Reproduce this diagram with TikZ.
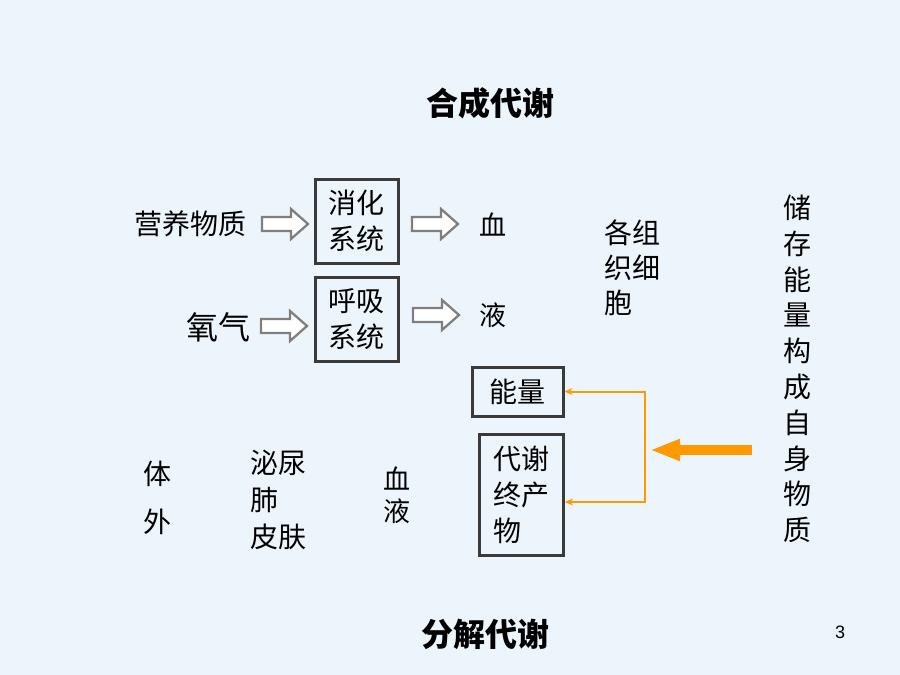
\documentclass[tikz,border=0pt]{standalone}
\usepackage{fontspec}
\setmainfont{Noto Sans CJK SC}
\newfontfamily\pagefont{Liberation Sans}
\usetikzlibrary{positioning,arrows.meta}
\definecolor{bg}{HTML}{EDF5FC}
\definecolor{boxline}{HTML}{3A3A3A}
\definecolor{hollow}{HTML}{7F7F7F}
\definecolor{flow}{HTML}{FF9900}
\tikzset{
  word/.style={inner sep=0pt, font=\fontsize{28}{36}\selectfont, align=center},
  heading/.style={inner sep=0pt, font=\bfseries\fontsize{32}{34}\selectfont},
  organ/.style={draw=boxline, line width=3pt, inner sep=0pt},
  hollowarrow/.style={draw=hollow, line width=2.3pt, fill=white, line join=miter},
  feed/.style={draw=flow, line width=2pt, -{Stealth[length=8pt,width=7pt]}},
  bigfeed/.style={draw=flow, line width=10pt, -{Triangle[length=30pt,width=20pt]}}
}
\begin{document}
\begin{tikzpicture}[x=1pt,y=-1pt]
\fill[bg] (0,0) rectangle (900,675);
\useasboundingbox (0,0) rectangle (900,675);
% anabolism
\node[heading] (anabolism) at (490,103) {合成代谢};
\node[word] (food) at (190,224) {营养物质};
\node[word,font=\fontsize{32}{36}\selectfont] (oxygen) at (218,327) {氧气};
\node[organ,word,minimum width=83pt,minimum height=84pt] (digest) at (356.5,221) {消化\\系统};
\node[organ,word,minimum width=83pt,minimum height=84pt] (breath) at (356.5,319) {呼吸\\系统};
\coordinate (foodin) at (285,224);
\coordinate (oxyin) at (284,326);
\coordinate (digout) at (435,224);
\coordinate (breathout) at (436,315);
\foreach \a in {foodin,oxyin,digout,breathout}
  \draw[hollowarrow] (\a) ++(-23,-7) -- ++(29,0) -- ++(0,-8) -- ++(17,15)
    -- ++(-17,15) -- ++(0,-8) -- ++(-29,0) -- cycle;
\node[word,font=\fontsize{27}{36}\selectfont] (blood) at (493,224) {血};
\node[word,font=\fontsize{27}{36}\selectfont] (fluid) at (493,315) {液};
\node[word,align=left,font=\fontsize{28}{35}\selectfont] (cells) at (632,268) {各组\\织细\\胞};
\node[word,font=\fontsize{28}{35.8}\selectfont] (store) at (797,369) {储\\存\\能\\量\\构\\成\\自\\身\\物\\质};
% catabolism
\node[organ,word,minimum width=91pt,minimum height=49pt] (energy) at (517.5,391.5) {能量};
\node[organ,word,align=left,minimum width=84pt,minimum height=121pt] (waste) at (521.5,494.5) {代谢\\终产\\物};
\coordinate (bus) at (645,450);
\coordinate (source) at (752,450);
\draw[feed] (bus) |- (energy.east);
\draw[feed] (bus) |- ([yshift=-7.5pt]waste.east);
\draw[bigfeed] (source) -- ([xshift=5pt]bus);
\node[word,font=\fontsize{28}{48}\selectfont] (outside) at (157,498) {体\\外};
\node[word,align=left,font=\fontsize{28}{37}\selectfont,anchor=west] (organs) at (250,500) {泌尿\\肺\\皮肤};
\node[word,font=\fontsize{27}{32}\selectfont] (blood2) at (397,495) {血\\液};
\node[heading] (catabolism) at (485,634) {分解代谢};
\node[inner sep=0pt,font=\pagefont\fontsize{18}{20}\selectfont] (page) at (840,632) {3};
\end{tikzpicture}
\end{document}
